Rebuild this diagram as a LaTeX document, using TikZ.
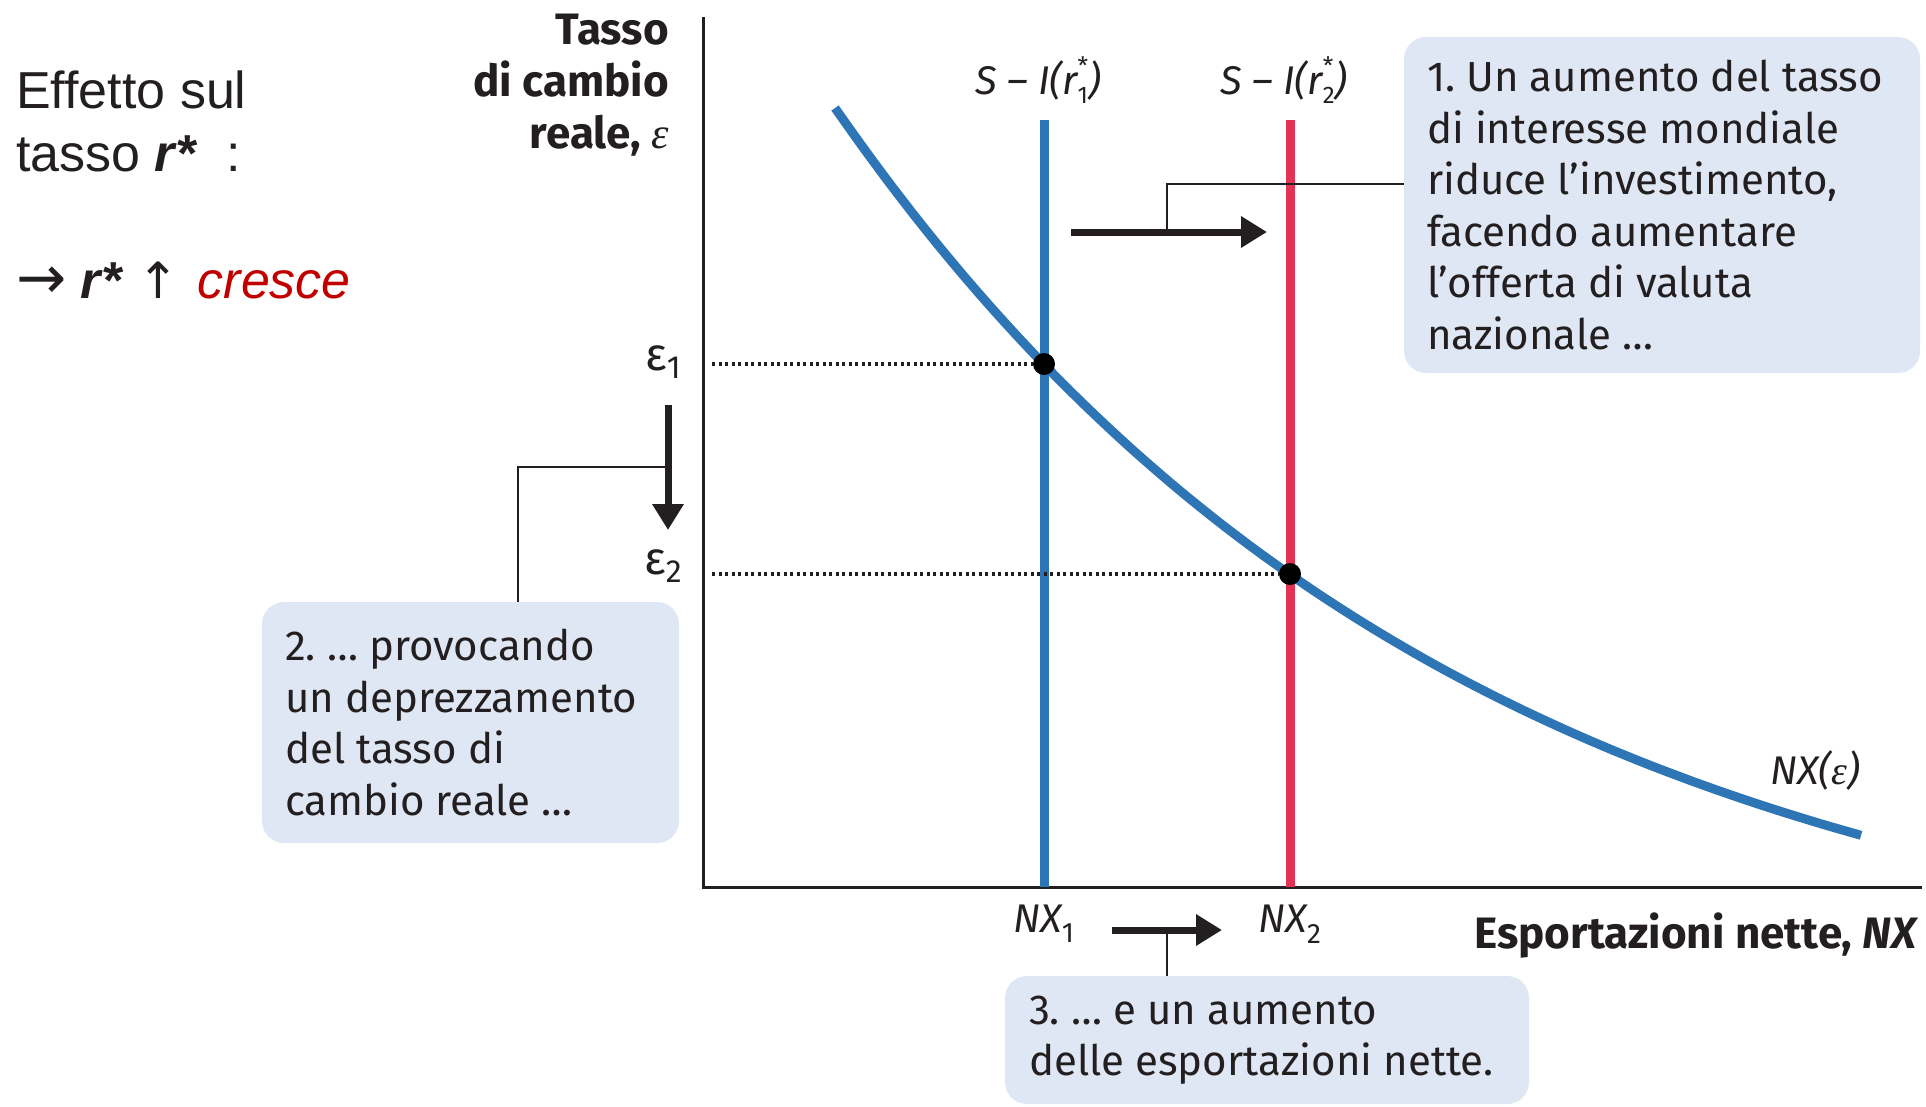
\documentclass[tikz,border=0pt]{standalone}
\usepackage{fontspec}
\setmainfont{Fira Sans}
\newfontfamily\arialfont{Liberation Sans}
\newfontfamily\arrowfont{DejaVu Sans}
\newfontfamily\epsfont{Liberation Serif}
\usetikzlibrary{arrows.meta}
\definecolor{curveblue}{RGB}{46,117,182}
\definecolor{linered}{RGB}{228,50,85}
\definecolor{boxfill}{RGB}{222,231,243}
\definecolor{ink}{RGB}{35,31,32}
\definecolor{darkred}{RGB}{192,0,0}
\newcommand\rstarsub[1]{r\rlap{\raisebox{20pt}{\upshape\fontsize{24}{24}\selectfont *}}\raisebox{-9pt}{\upshape\fontsize{24}{24}\selectfont #1}}
\newcommand\epsi{{\epsfont\itshape ε}}
\frenchspacing
\begin{document}
\begin{tikzpicture}[x=1pt,y=-1pt,
 every node/.style={inner sep=0pt, text=ink},
 boxstyle/.style={rectangle, rounded corners=22pt, fill=boxfill},
 boxtext/.style={anchor=west, align=left, font=\fontsize{42}{51.6}\selectfont},
 leader/.style={draw=ink, line width=2.2pt},
 bigarrow/.style={draw=ink, line width=7pt, -{Triangle[length=26pt,width=30pt]}},
 axislabel/.style={font=\bfseries\fontsize{44}{52}\selectfont, align=right},
 dotline/.style={draw=ink, line width=3.5pt, dash pattern=on 3pt off 3.5pt},
 eqdot/.style={circle, fill=black, minimum size=22pt},
 curvelabel/.style={font=\itshape\fontsize{40}{42}\selectfont},
 lefttext/.style={anchor=base west, font=\arialfont\fontsize{52}{60}\selectfont},
]
\useasboundingbox (0,0) rectangle (1926,1106);

% left text
\node[lefttext] (t1) at (16,108) {Effetto sul};
\node[lefttext] (t2) at (16,171) {tasso \textbf{\textit{r*}}\ \ :};
\node[lefttext] (t3) at (16,298) {{\arrowfont\fontsize{60}{60}\selectfont →} \textbf{\textit{r*}} {\arrowfont\fontsize{50}{60}\selectfont ↑}\hspace{18pt}\textcolor{darkred}{\textit{cresce}}};

% axes
\coordinate (ytop) at (703,17);
\coordinate (origin) at (703,887);
\coordinate (xend) at (1922,887);
\draw[ink, line width=3pt] (ytop) -- (origin) -- (xend);

\node[axislabel, anchor=north east] (ylab) at (669,14) {Tasso\\di cambio\\reale, {\mdseries\epsi}};
\node[font=\bfseries\fontsize{44}{52}\selectfont, anchor=base east] (xlab) at (1919,948) {Esportazioni nette, \textit{NX}};

% vertical lines
\coordinate (btop) at (1044,120); \coordinate (bbot) at (1044,887);
\coordinate (rtop) at (1290,120); \coordinate (rbot) at (1290,887);
\draw[curveblue, line width=9pt] (btop) -- (bbot);
\draw[linered, line width=9pt] (rtop) -- (rbot);
\node[curvelabel] (s1) at (1038,80) {S – I(\rstarsub{1})};
\node[curvelabel] (s2) at (1284,80) {S – I(\rstarsub{2})};

% curve
\draw[curveblue, line width=9pt, domain=835:1861, samples=80] plot (\x, {108+901.5*(1-exp(-0.0016*(\x-835)))});
\node[curvelabel] (nxe) at (1815,770) {NX(\epsi)};

% equilibria
\node[eqdot] (E1) at (1044,364) {};
\node[eqdot] (E2) at (1290,574) {};
\node[font=\fontsize{46}{50}\selectfont] (eps1) at (663,362) {ε\raisebox{-0.3ex}{\fontsize{32}{32}\selectfont 1}};
\node[font=\fontsize{46}{50}\selectfont] (eps2) at (663,566) {ε\raisebox{-0.3ex}{\fontsize{32}{32}\selectfont 2}};
\coordinate (y1) at (712,364);
\coordinate (y2) at (712,574);
\draw[dotline] (y1) -- (E1);
\draw[dotline] (y2) -- (E2);

\node[curvelabel] (nx1) at (1044,924) {NX\textsubscript{\upshape 1}};
\node[curvelabel] (nx2) at (1290,924) {NX\textsubscript{\upshape 2}};

% boxes
\node[boxstyle, minimum width=516pt, minimum height=336pt] (box1) at (1662,205) {};
\node[boxtext] (box1text) at ([xshift=23pt]box1.west)
 {1. Un aumento del tasso\\di interesse mondiale\\riduce l’investimento,\\facendo aumentare\\l’offerta di valuta\\nazionale …};
\node[boxstyle, minimum width=417pt, minimum height=241pt] (box2) at (470.5,722.5) {};
\node[boxtext] (box2text) at ([xshift=23pt]box2.west)
 {2. … provocando\\un deprezzamento\\del tasso di\\cambio reale …};
\node[boxstyle, minimum width=524pt, minimum height=128pt] (box3) at (1267,1040) {};
\node[boxtext] (box3text) at ([xshift=24pt]box3.west)
 {3. … e un aumento\\delle esportazioni nette.};

% arrows
\coordinate (ra1) at (1071,232); \coordinate (ra2) at (1267,232);
\draw[bigarrow] (ra1) -- (ra2);
\coordinate (da1) at (668,405); \coordinate (da2) at (668,530);
\draw[bigarrow] (da1) -- (da2);
\coordinate (ba1) at (1112,930); \coordinate (ba2) at (1222,930);
\draw[bigarrow] (ba1) -- (ba2);

% leaders
\coordinate (L1) at (1167,184); \coordinate (L1b) at (1167,232);
\draw[leader] (box1.west |- L1) -- (L1) -- (L1b);
\coordinate (L2a) at (668,467); \coordinate (L2) at (518,467);
\draw[leader] (L2a) -- (L2) -- (L2 |- box2.north);
\coordinate (L3) at (1167,930);
\draw[leader] (L3) -- (L3 |- box3.north);
\end{tikzpicture}
\end{document}
